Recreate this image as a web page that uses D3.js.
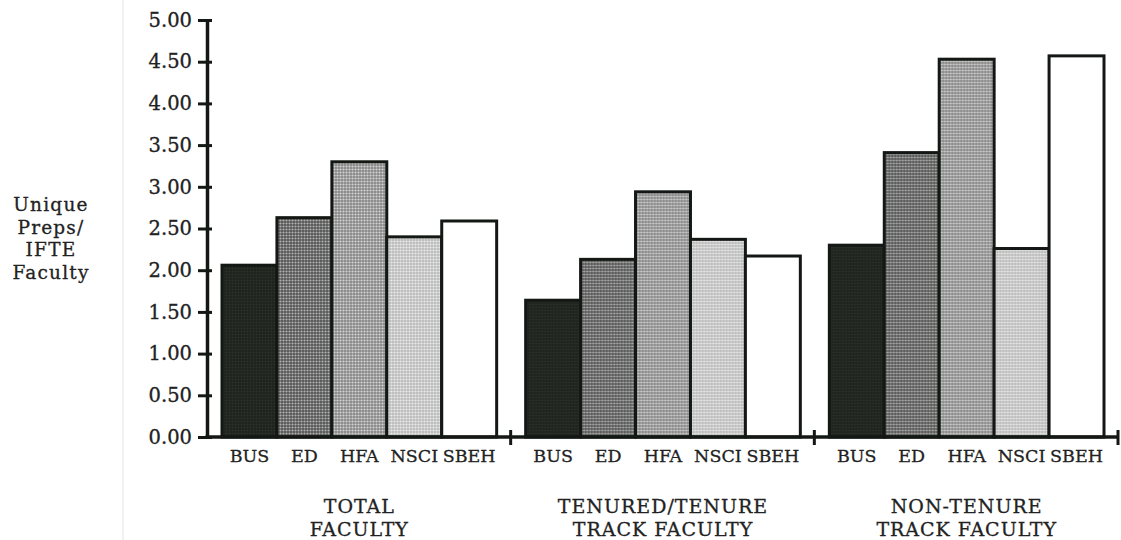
<!DOCTYPE html>
<html>
<head>
<meta charset="utf-8">
<script src="https://cdn.jsdelivr.net/npm/d3@7"></script>
<style>
  html, body { margin: 0; padding: 0; background: #fff; }
  svg { display: block; }
  text { font-family: "DejaVu Serif", "Liberation Serif", serif; fill: #222; stroke: #222; stroke-width: 0.3px; }
</style>
</head>
<body>
<script>
const groups = ["TOTAL FACULTY", "TENURED/TENURE TRACK FACULTY", "NON-TENURE TRACK FACULTY"];
const groupLines = [["TOTAL", "FACULTY"], ["TENURED/TENURE", "TRACK FACULTY"], ["NON-TENURE", "TRACK FACULTY"]];
const categories = ["BUS", "ED", "HFA", "NSCI", "SBEH"];
const totalFaculty = [2.06, 2.63, 3.30, 2.40, 2.59];
const tenuredFaculty = [1.64, 2.13, 2.94, 2.37, 2.17];
const nonTenureFaculty = [2.30, 3.41, 4.53, 2.26, 4.57];
const yTicks = [0, 0.5, 1, 1.5, 2, 2.5, 3, 3.5, 4, 4.5, 5];
const yLabelLines = ["Unique", "Preps/", "IFTE", "Faculty"];

const seriesByGroup = [totalFaculty, tenuredFaculty, nonTenureFaculty];

const W = 1121, H = 540;
const svg = d3.select("body").append("svg").attr("width", W).attr("height", H);

const defs = svg.append("defs");
const patSpecs = [
  {id: "p0", base: "#1d221d", dot: "#2c312c", size: 3},
  {id: "p1", base: "#555555", dot: "#b4b4b4", size: 3},
  {id: "p2", base: "#888888", dot: "#d4d4d4", size: 3},
  {id: "p3", base: "#bbbbbb", dot: "#ececec", size: 3},
  {id: "p4", base: "#ffffff", dot: "#ffffff", size: 3}
];
patSpecs.forEach(p => {
  const pat = defs.append("pattern").attr("id", p.id)
    .attr("patternUnits", "userSpaceOnUse").attr("width", p.size).attr("height", p.size);
  pat.append("rect").attr("width", p.size).attr("height", p.size).attr("fill", p.base);
  pat.append("circle").attr("cx", 1.5).attr("cy", 1.5).attr("r", 1.05).attr("fill", p.dot);
});

const x0 = d3.scaleBand().domain(groups).range([207, 1118]).paddingInner(0).paddingOuter(0);
const x1 = d3.scaleBand().domain(categories).range([15, x0.bandwidth() - 14]).padding(0);
const y = d3.scaleLinear().domain([0, 5]).range([437, 20]);

svg.append("line").attr("x1", 123).attr("x2", 123).attr("y1", 0).attr("y2", H)
  .attr("stroke", "#e4e4e4").attr("stroke-width", 1);

const g = svg.append("g");
groups.forEach((grp, gi) => {
  const gg = g.append("g").attr("transform", `translate(${x0(grp)},0)`);
  gg.selectAll("rect").data(categories.map((c, i) => ({c, v: seriesByGroup[gi][i], i})))
    .join("rect")
    .attr("x", d => x1(d.c))
    .attr("y", d => y(d.v))
    .attr("width", x1.bandwidth())
    .attr("height", d => y(0) - y(d.v))
    .attr("fill", d => `url(#p${d.i})`)
    .attr("stroke", "#141814")
    .attr("stroke-width", 3);

  gg.selectAll("text.cat").data(categories).join("text")
    .attr("class", "cat")
    .attr("x", d => x1(d) + x1.bandwidth() / 2)
    .attr("y", 462)
    .attr("text-anchor", "middle")
    .attr("font-size", 17.5)
    .text(d => d);

  const cx = x1(categories[0]) + (x1(categories[4]) + x1.bandwidth() - x1(categories[0])) / 2;
  gg.selectAll("text.grp").data(groupLines[gi]).join("text")
    .attr("class", "grp")
    .attr("x", cx)
    .attr("y", (d, i) => 513 + i * 23)
    .attr("text-anchor", "middle")
    .attr("font-size", 19)
    .attr("letter-spacing", 1)
    .text(d => d);
});

const yAxis = d3.axisLeft(y).tickValues(yTicks).tickFormat(d3.format(".2f")).tickSizeInner(0).tickSizeOuter(0).tickPadding(15);
const ya = svg.append("g").attr("transform", "translate(207,0)").call(yAxis);
ya.select(".domain").attr("stroke", "#141814").attr("stroke-width", 3.5);
ya.selectAll(".tick text").attr("font-size", 19.5).attr("font-family", "DejaVu Serif, serif").attr("fill", "#222");
ya.selectAll(".tick").append("line").attr("x1", -9).attr("x2", 5).attr("stroke", "#141814").attr("stroke-width", 3);

svg.append("line").attr("x1", 205.5).attr("x2", 1118).attr("y1", y(0)).attr("y2", y(0))
  .attr("stroke", "#141814").attr("stroke-width", 3.5);
const sepX = groups.map(gname => x0(gname) + x0.bandwidth());
svg.selectAll("line.sep").data(sepX).join("line").attr("class", "sep")
  .attr("x1", d => d).attr("x2", d => d)
  .attr("y1", y(0) - 7).attr("y2", y(0) + 8)
  .attr("stroke", "#141814").attr("stroke-width", 3);

svg.append("g").selectAll("text").data(yLabelLines).join("text")
  .attr("x", 51).attr("y", (d, i) => 211 + i * 22.5)
  .attr("text-anchor", "middle").attr("font-size", 18.5)
  .attr("letter-spacing", 1.2)
  .text(d => d);
</script>
</body>
</html>
